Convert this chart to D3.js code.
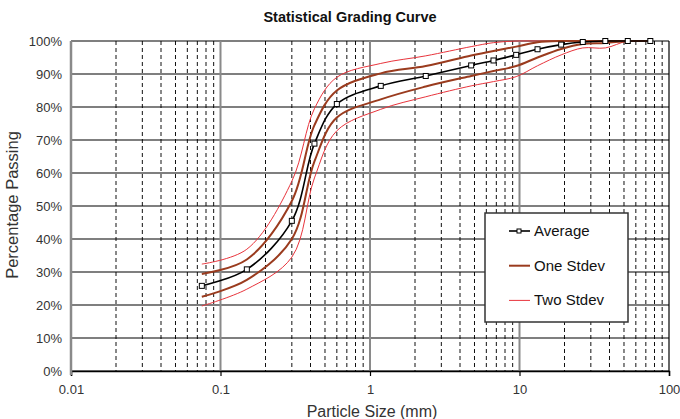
<!DOCTYPE html>
<html>
<head>
<meta charset="utf-8">
<script src="https://cdn.jsdelivr.net/npm/d3@7"></script>
<style>
  body { margin: 0; background: #fff; }
  svg { display: block; font-family: "Liberation Sans", Arial, sans-serif; }
</style>
</head>
<body>
<div id="chart"></div>
<script>
// sieve sizes (mm) and percentage passing
const sizes = [0.075, 0.15, 0.3, 0.425, 0.6, 1.18, 2.36, 4.75, 6.7, 9.5, 13.2, 19, 26.5, 37.5, 53, 75];
const average       = [25.8, 30.8, 45.5, 68.9, 80.9, 86.4, 89.4, 92.6, 94.1, 95.8, 97.5, 98.9, 99.7, 100, 100, 100];
const oneStdevUpper = [29.4, 33.8, 51.5, 74.5, 85.0, 90.2, 92.4, 95.6, 97.0, 98.3, 99.6, 100, 100, 100, 100, 100];
const oneStdevLower = [22.5, 27.6, 40.0, 63.5, 76.8, 82.3, 86.2, 89.4, 90.9, 92.4, 95.0, 97.6, 99.1, 99.4, 100, 100];
const twoStdevUpper = [32.4, 36.9, 57.5, 79.5, 89.0, 93.2, 95.5, 98.3, 99.5, 100, 100, 100, 100, 100, 100, 100];
const twoStdevLower = [19.7, 24.8, 34.5, 58.5, 72.8, 79.3, 83.1, 86.4, 87.7, 89.2, 92.5, 95.8, 97.9, 97.9, 100, 100];

const xTickLabels = ["0.01", "0.1", "1", "10", "100"];
const yTicks = [0, 10, 20, 30, 40, 50, 60, 70, 80, 90, 100];
const legendNames = ["Average", "One Stdev", "Two Stdev"];

const svgWidth = 680;
const svgHeight = 419;

const margin = { top: 41, right: 11, bottom: 48, left: 71 };
const width = svgWidth - margin.left - margin.right;
const height = svgHeight - margin.top - margin.bottom;

const svg = d3.select("#chart")
  .append("svg")
  .attr("width", svgWidth)
  .attr("height", svgHeight);

const chartGroup = svg.append("g")
  .attr("transform", `translate(${margin.left}, ${margin.top})`);

const xLogScale = d3.scaleLog()
  .domain([0.01, 100])
  .range([0, width]);

const yLinearScale = d3.scaleLinear()
  .domain([0, 100])
  .range([height, 0]);

// keep the smoothed curves from poking over 100%
svg.append("clipPath")
  .attr("id", "plotClip")
  .append("rect")
  .attr("x", 0)
  .attr("y", -1)
  .attr("width", width)
  .attr("height", height + 1);

// minor verticals (2..9 in every decade), dashed
const allXTicks = xLogScale.ticks();
const majorX = xTickLabels.map(Number);
const minorX = allXTicks.filter(v => !majorX.some(m => Math.abs(m - v) / m < 1e-6));

chartGroup.append("g")
  .selectAll("line")
  .data(minorX)
  .enter()
  .append("line")
  .attr("x1", d => xLogScale(d))
  .attr("x2", d => xLogScale(d))
  .attr("y1", 0)
  .attr("y2", height)
  .attr("stroke", "#111")
  .attr("stroke-width", 1)
  .attr("stroke-dasharray", "4,3");

// horizontal grid
chartGroup.append("g")
  .selectAll("line")
  .data(yTicks)
  .enter()
  .append("line")
  .attr("x1", 0)
  .attr("x2", width)
  .attr("y1", d => yLinearScale(d))
  .attr("y2", d => yLinearScale(d))
  .attr("stroke", "#000")
  .attr("stroke-width", 1.2);

// major verticals, solid gray
chartGroup.append("g")
  .selectAll("line")
  .data(majorX.slice(1, 4))
  .enter()
  .append("line")
  .attr("x1", d => xLogScale(d))
  .attr("x2", d => xLogScale(d))
  .attr("y1", 0)
  .attr("y2", height)
  .attr("stroke", "#8a8a8a")
  .attr("stroke-width", 2);

// right border
chartGroup.append("line")
  .attr("x1", width).attr("x2", width)
  .attr("y1", 0).attr("y2", height)
  .attr("stroke", "#000")
  .attr("stroke-width", 1.2);

// x axis
const bottomAxis = d3.axisBottom(xLogScale)
  .tickValues(majorX)
  .tickFormat((d, i) => xTickLabels[i])
  .tickSize(5)
  .tickPadding(9);

const xAxis = chartGroup.append("g")
  .attr("transform", `translate(0, ${height})`)
  .call(bottomAxis);

xAxis.select(".domain").attr("stroke", "#000").attr("stroke-width", 1.5);
xAxis.selectAll(".tick line").attr("stroke", "#000").attr("stroke-width", 1.2);
xAxis.selectAll("text")
  .attr("fill", "#333")
  .style("font-size", "13px");

// y axis
const leftAxis = d3.axisLeft(yLinearScale)
  .tickValues(yTicks)
  .tickFormat(d => d + "%")
  .tickSize(0)
  .tickPadding(9);

const yAxis = chartGroup.append("g")
  .call(leftAxis);

yAxis.select(".domain").remove();
yAxis.selectAll("text")
  .attr("fill", "#333")
  .style("font-size", "13px");

chartGroup.append("line")
  .attr("x1", 0).attr("x2", 0)
  .attr("y1", 0).attr("y2", height + 4)
  .attr("stroke", "#8a8a8a")
  .attr("stroke-width", 2.5);

// curves
const lineGen = values => d3.line()
  .x((d, i) => xLogScale(sizes[i]))
  .y(d => yLinearScale(d))
  .curve(d3.curveCatmullRom.alpha(0.5))(values);

const curves = [
  { values: twoStdevUpper, color: "#e8343c", w: 1 },
  { values: twoStdevLower, color: "#e8343c", w: 1 },
  { values: oneStdevUpper, color: "#9a3b1e", w: 2 },
  { values: oneStdevLower, color: "#9a3b1e", w: 2 },
  { values: average, color: "#000", w: 1.6 }
];

chartGroup.append("g")
  .attr("clip-path", "url(#plotClip)")
  .selectAll("path")
  .data(curves)
  .enter()
  .append("path")
  .attr("d", d => lineGen(d.values))
  .attr("fill", "none")
  .attr("stroke", d => d.color)
  .attr("stroke-width", d => d.w);

chartGroup.append("g")
  .selectAll("rect")
  .data(average)
  .enter()
  .append("rect")
  .attr("x", (d, i) => xLogScale(sizes[i]) - 2.5)
  .attr("y", d => yLinearScale(d) - 2.5)
  .attr("width", 5)
  .attr("height", 5)
  .attr("fill", "#fff")
  .attr("stroke", "#000")
  .attr("stroke-width", 1);

// legend
const legend = svg.append("g")
  .attr("transform", "translate(485, 213)");

legend.append("rect")
  .attr("width", 143)
  .attr("height", 109)
  .attr("fill", "#fff")
  .attr("stroke", "#333")
  .attr("stroke-width", 1.5);

const legendStyle = [
  { color: "#000", w: 1.6, marker: true },
  { color: "#9a3b1e", w: 2, marker: false },
  { color: "#e8343c", w: 1, marker: false }
];

legendNames.forEach((name, i) => {
  const ly = 18 + i * 34.7;
  legend.append("line")
    .attr("x1", 24).attr("x2", 45)
    .attr("y1", ly).attr("y2", ly)
    .attr("stroke", legendStyle[i].color)
    .attr("stroke-width", legendStyle[i].w);
  if (legendStyle[i].marker) {
    legend.append("rect")
      .attr("x", 32).attr("y", ly - 2)
      .attr("width", 4).attr("height", 4)
      .attr("fill", "#fff")
      .attr("stroke", "#000");
  }
  legend.append("text")
    .attr("x", 49)
    .attr("y", ly + 5)
    .attr("fill", "#111")
    .style("font-size", "15px")
    .text(name);
});

// titles
svg.append("text")
  .attr("x", 350)
  .attr("y", 22)
  .attr("text-anchor", "middle")
  .style("font-size", "14.5px")
  .style("font-weight", "bold")
  .attr("fill", "#111")
  .text("Statistical Grading Curve");

svg.append("text")
  .attr("transform", "rotate(-90)")
  .attr("x", -205)
  .attr("y", 18)
  .attr("text-anchor", "middle")
  .style("font-size", "16.5px")
  .attr("fill", "#333")
  .text("Percentage Passing");

svg.append("text")
  .attr("x", 372)
  .attr("y", 417)
  .attr("text-anchor", "middle")
  .style("font-size", "16px")
  .attr("fill", "#333")
  .text("Particle Size (mm)");
</script>
</body>
</html>
